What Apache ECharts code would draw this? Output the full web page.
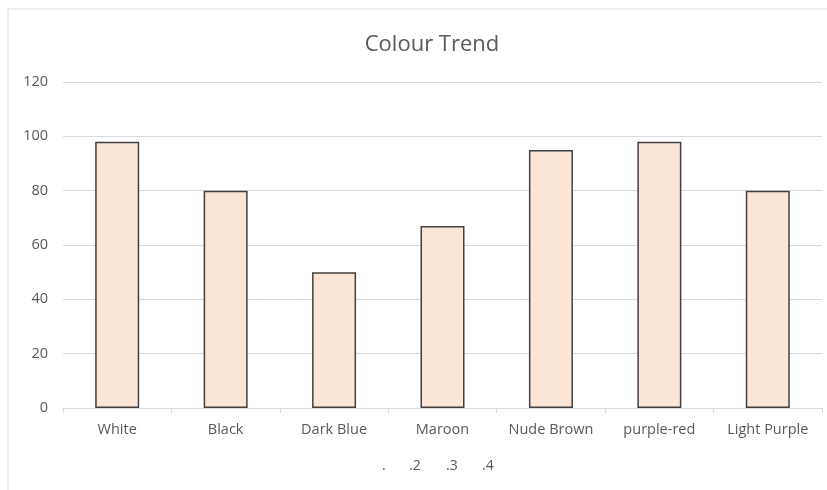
<!DOCTYPE html>
<html><head><meta charset="utf-8">
<script src="https://cdn.jsdelivr.net/npm/echarts@6/dist/echarts.min.js"></script>
<style>html,body{margin:0;padding:0;background:#fff}#c{width:827px;height:490px}</style>
</head><body><div id="c"></div>
<script>
const categories = ['White','Black','Dark Blue','Maroon','Nude Brown','purple-red','Light Purple'];
const values = [98, 80, 50, 67, 95, 98, 80];
const yTicks = {min: 0, max: 120, interval: 20};
const legendLabels = ['.', '.2', '.3', '.4'];
const legendX = [382, 409, 446, 482];

const chart = echarts.init(document.getElementById('c'));
const font = '"Open Sans", "Noto Sans", sans-serif';
chart.setOption({
  animation: false,
  textStyle: {fontFamily: font},
  title: {text: 'Colour Trend', left: 427, top: 29, textAlign: 'center',
    textStyle: {fontSize: 22, fontWeight: 'normal', color: '#595959', fontFamily: font}},
  grid: {left: 63, right: 5, top: 82, bottom: 82, containLabel: false},
  xAxis: {type: 'category', data: categories,
    axisLine: {lineStyle: {color: '#d9d9d9', width: 1}},
    axisTick: {show: true, interval: 0, length: 5, lineStyle: {color: '#d9d9d9'}},
    axisLabel: {interval: 0, color: '#595959', fontSize: 14.5, margin: 14, fontFamily: font}},
  yAxis: {type: 'value', min: yTicks.min, max: yTicks.max, interval: yTicks.interval,
    axisLine: {show: false}, axisTick: {show: false},
    splitLine: {lineStyle: {color: '#d9d9d9', width: 1}},
    axisLabel: {color: '#595959', fontSize: 14.5, margin: 15, fontFamily: font}},
  series: [{type: 'bar', data: values, barWidth: 44,
    itemStyle: {color: '#fbe5d6', borderColor: '#404040', borderWidth: 1.5}}],
  graphic: [
    {type: 'rect', shape: {x: 8, y: 9, width: 830, height: 500}, style: {fill: 'none', stroke: '#d9d9d9', lineWidth: 1}, silent: true, z: -1},
    ...legendLabels.map((t, i) => ({type: 'text', x: legendX[i], y: 459,
      style: {text: t, fill: '#595959', font: '14px ' + font}}))
  ]
});
</script></body></html>
